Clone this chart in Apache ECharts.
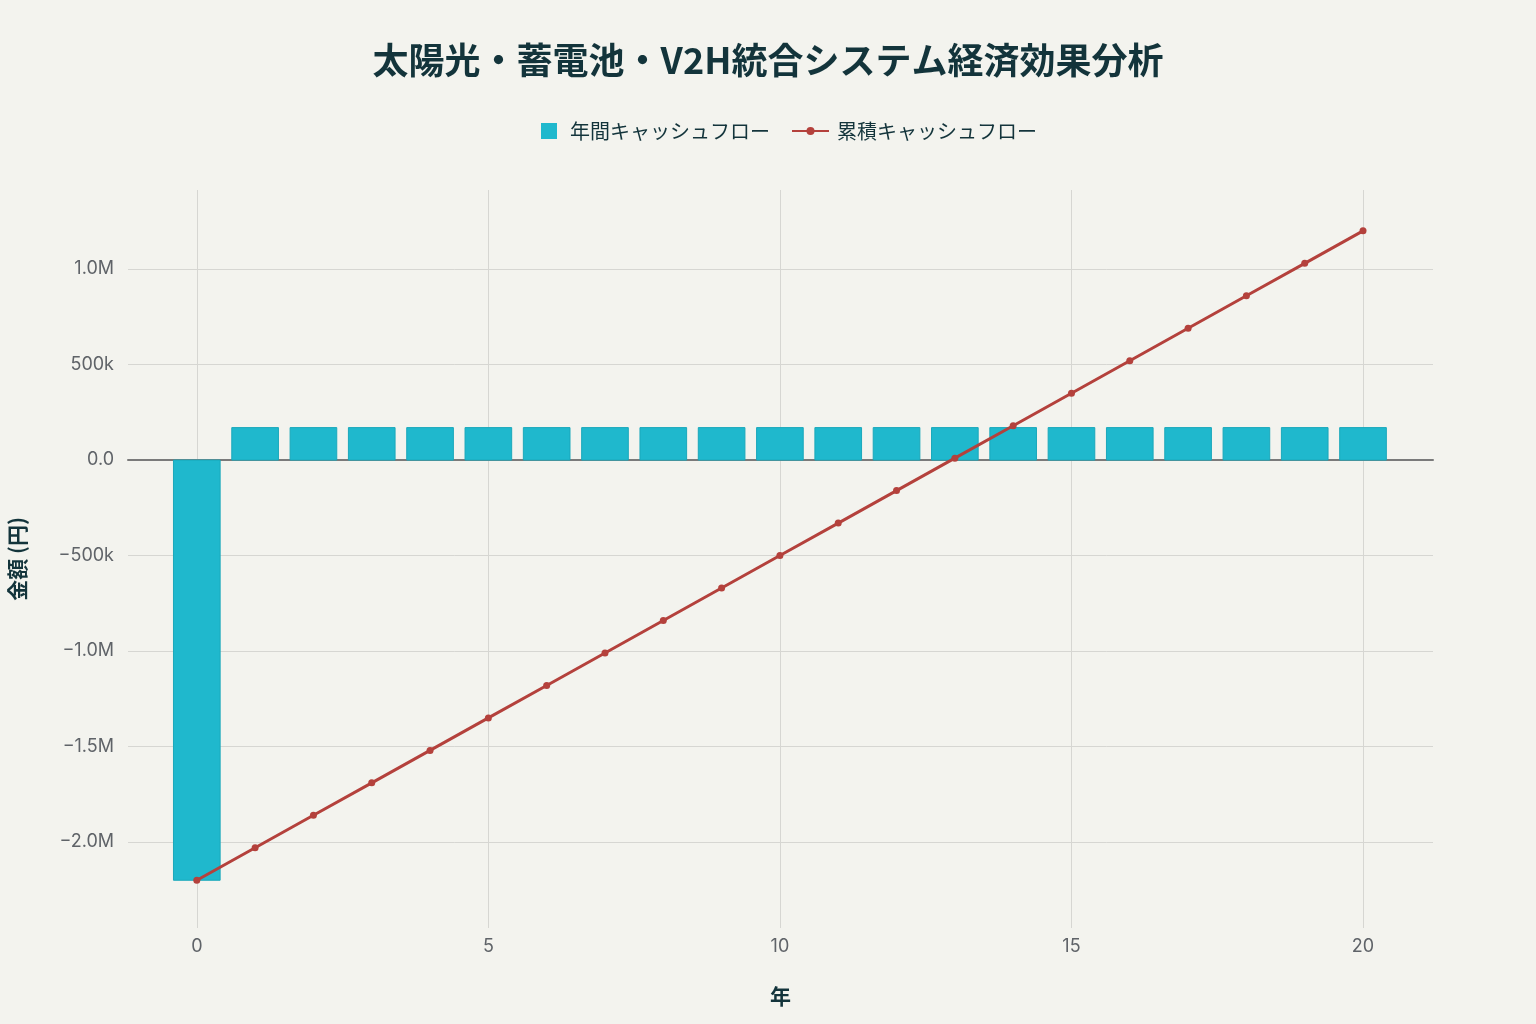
<!DOCTYPE html>
<html>
<head>
<meta charset="utf-8">
<script src="https://cdn.jsdelivr.net/npm/echarts@6/dist/echarts.min.js"></script>
<style>
html,body{margin:0;padding:0;background:#F3F3EE;}
#c{width:1536px;height:1024px;}
</style>
</head>
<body>
<div id="c"></div>
<script>
const years = [0,1,2,3,4,5,6,7,8,9,10,11,12,13,14,15,16,17,18,19,20];
const annualCashFlow = [-2200000,170000,170000,170000,170000,170000,170000,170000,170000,170000,170000,170000,170000,170000,170000,170000,170000,170000,170000,170000,170000];
const cumulativeCashFlow = [-2200000,-2030000,-1860000,-1690000,-1520000,-1350000,-1180000,-1010000,-840000,-670000,-500000,-330000,-160000,10000,180000,350000,520000,690000,860000,1030000,1200000];
const xTicks = [0,5,10,15,20];
const yTicks = [-2000000,-1500000,-1000000,-500000,0,500000,1000000];

const FONT = '"Noto Sans CJK JP","Noto Sans",sans-serif';
const NUMFONT = 'Inter,"Noto Sans",sans-serif';
const BAR_COLOR = '#1FB8CD';
const LINE_COLOR = '#B4413C';

function fmtY(v){
  const a = Math.abs(v);
  let s;
  if (a === 0) s = '0.0';
  else if (a >= 1000000) s = (a/1000000).toFixed(1) + 'M';
  else s = (a/1000) + 'k';
  return (v < 0 ? '\u2212' : '') + s;
}

const chart = echarts.init(document.getElementById('c'));
chart.setOption({
  backgroundColor: '#F3F3EE',
  animation: false,
  title: {
    text: '太陽光・蓄電池・V2H統合システム経済効果分析',
    left: 'center',
    top: 37,
    textStyle: {fontFamily: FONT, fontSize: 36, fontWeight: 'bold', color: '#13343B'}
  },
  legend: [
    {
      data: [{name: '年間キャッシュフロー', icon: 'rect'}],
      left: 536, top: 116,
      itemWidth: 16, itemHeight: 16, itemGap: 10,
      textStyle: {fontFamily: FONT, fontSize: 20, color: '#13343B', padding: [0,0,0,8]}
    },
    {
      data: [{name: '累積キャッシュフロー', itemStyle: {color: LINE_COLOR}}],
      left: 786, top: 116,
      itemWidth: 37, itemHeight: 10,
      textStyle: {fontFamily: FONT, fontSize: 20, color: '#13343B', padding: [0,0,0,3]}
    }
  ],
  grid: {left: 128, right: 103, top: 190, bottom: 96, containLabel: false, outerBoundsMode: 'none'},
  xAxis: {
    type: 'value',
    min: -1.18, max: 21.2,
    name: '年',
    nameLocation: 'middle',
    nameGap: 58,
    nameTextStyle: {fontFamily: FONT, fontSize: 21, fontWeight: 'bold', color: '#13343B'},
    axisLine: {onZero: true, lineStyle: {color: '#7a7a7a', width: 2}},
    axisTick: {show: false, customValues: xTicks},
    axisLabel: {customValues: xTicks, fontFamily: NUMFONT, fontSize: 18, color: '#5f6368', margin: 10},
    splitLine: {show: true, lineStyle: {color: '#d6d6d2', width: 1}}
  },
  yAxis: {
    type: 'value',
    min: -2450000, max: 1414000,
    name: '金額 (円)',
    nameLocation: 'middle',
    nameGap: 100,
    nameRotate: 90,
    nameTextStyle: {fontFamily: FONT, fontSize: 21, fontWeight: 'bold', color: '#13343B'},
    axisLine: {show: false, onZero: false},
    axisTick: {show: false, customValues: yTicks},
    axisLabel: {customValues: yTicks, formatter: fmtY, fontFamily: NUMFONT, fontSize: 18, color: '#5f6368', margin: 14},
    splitLine: {show: true, lineStyle: {color: '#d6d6d2', width: 1}}
  },
  series: [
    {
      name: '年間キャッシュフロー',
      type: 'custom',
      data: years.map((y, i) => [y, annualCashFlow[i]]),
      itemStyle: {color: BAR_COLOR},
      encode: {x: 0, y: 1},
      renderItem: function (params, api) {
        const x = api.value(0), v = api.value(1);
        const p0 = api.coord([x, 0]);
        const p1 = api.coord([x, v]);
        const w = api.size([0.8, 0])[0];
        return {
          type: 'rect',
          shape: {x: p0[0] - w / 2, y: Math.min(p0[1], p1[1]), width: w, height: Math.abs(p1[1] - p0[1])},
          style: {fill: BAR_COLOR, stroke: '#1aa8bb', lineWidth: 1}
        };
      },
      z: 2
    },
    {
      name: '累積キャッシュフロー',
      type: 'line',
      data: years.map((y, i) => [y, cumulativeCashFlow[i]]),
      symbol: 'circle',
      symbolSize: 7,
      lineStyle: {color: LINE_COLOR, width: 3},
      itemStyle: {color: LINE_COLOR},
      z: 3
    }
  ]
});
</script>
</body>
</html>
